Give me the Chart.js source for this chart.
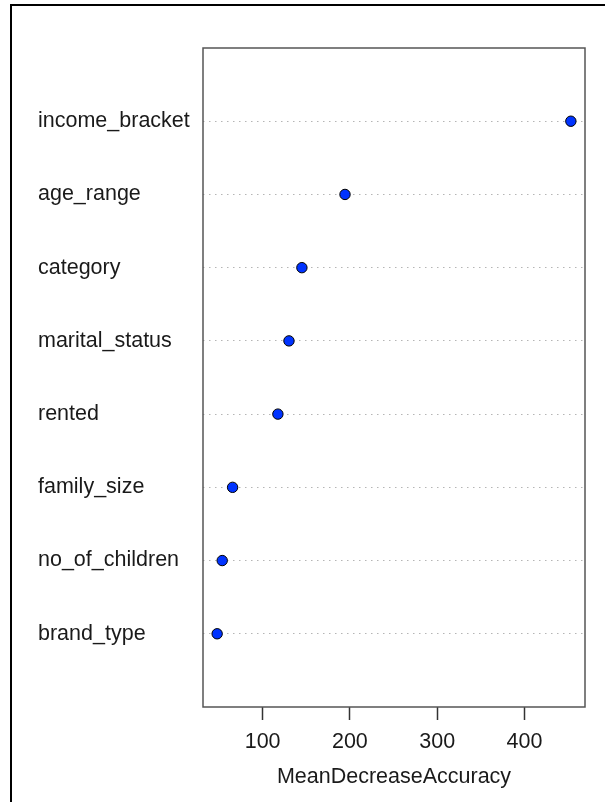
<!DOCTYPE html>
<html>
<head>
<meta charset="utf-8">
<script src="https://cdn.jsdelivr.net/npm/chart.js@4"></script>
<style>
  html, body { margin: 0; padding: 0; background: #fff; }
  canvas { display: block; }
</style>
</head>
<body>
<canvas id="c" width="605" height="802"></canvas>
<script>
// Variables, top to bottom as shown
const categories = ['income_bracket', 'age_range', 'category', 'marital_status', 'rented', 'family_size', 'no_of_children', 'brand_type'];
const meanDecreaseAccuracy = [453.2, 194.4, 145.0, 130.2, 117.5, 65.6, 53.7, 47.9];
const xTickValues = [100, 200, 300, 400];
const xTitle = 'MeanDecreaseAccuracy';

const n = categories.length;
const points = categories.map((c, i) => ({ x: meanDecreaseAccuracy[i], y: n - i }));

const dataMin = Math.min(...meanDecreaseAccuracy);
const dataMax = Math.max(...meanDecreaseAccuracy);
const ext = (dataMax - dataMin) * 0.04;

const FONT = { family: '"Liberation Sans", Arial, Helvetica, sans-serif', size: 21.5 };

const framePlugin = {
  id: 'frame',
  beforeDraw(chart) {
    const ctx = chart.ctx;
    ctx.save();
    ctx.fillStyle = '#fff';
    ctx.fillRect(0, 0, chart.width, chart.height);
    ctx.strokeStyle = '#000';
    ctx.lineWidth = 2;
    ctx.beginPath();
    ctx.moveTo(11, chart.height);
    ctx.lineTo(11, 5);
    ctx.lineTo(chart.width, 5);
    ctx.stroke();
    ctx.restore();
  },
  beforeDatasetsDraw(chart) {
    const a = chart.chartArea;
    const ctx = chart.ctx;
    ctx.save();
    ctx.strokeStyle = '#555';
    ctx.lineWidth = 1.5;
    ctx.strokeRect(a.left, a.top, a.right - a.left, a.bottom - a.top);
    ctx.restore();
  }
};

new Chart(document.getElementById('c'), {
  type: 'scatter',
  data: {
    datasets: [{
      data: points,
      pointRadius: 5.2,
      pointHoverRadius: 5.2,
      pointBorderWidth: 1,
      pointBorderColor: '#000',
      pointBackgroundColor: '#0033ff'
    }]
  },
  options: {
    responsive: false,
    animation: false,
    devicePixelRatio: 1,
    events: [],
    layout: { padding: { left: 38, top: 48, right: 20, bottom: 0 } },
    plugins: { legend: { display: false }, tooltip: { enabled: false } },
    scales: {
      x: {
        type: 'linear',
        position: 'bottom',
        min: dataMin - ext,
        max: dataMax + ext,
        afterBuildTicks: s => { s.ticks = xTickValues.map(v => ({ value: v })); },
        ticks: {
          includeBounds: false,
          font: FONT,
          color: '#1a1a1a',
          padding: 9,
          maxRotation: 0
        },
        grid: {
          drawOnChartArea: false,
          drawTicks: true,
          tickLength: 13,
          tickColor: '#333',
          tickWidth: 1.5
        },
        border: { display: false },
        title: {
          display: true,
          text: xTitle,
          font: FONT,
          color: '#1a1a1a',
          padding: { top: 0, bottom: 12 }
        },
        afterFit: s => { s.height = 95; }
      },
      y: {
        type: 'linear',
        position: 'left',
        min: 0,
        max: n + 1,
        afterBuildTicks: s => { s.ticks = categories.map((c, i) => ({ value: n - i })); },
        ticks: {
          crossAlign: 'far',
          font: FONT,
          color: '#1a1a1a',
          callback: v => categories[n - v]
        },
        grid: {
          drawTicks: false,
          color: '#b5b5b5',
          lineWidth: 1
        },
        border: { display: false, dash: [1.5, 4.5] },
        afterFit: s => { s.width = 165; }
      }
    }
  },
  plugins: [framePlugin]
});
</script>
</body>
</html>
